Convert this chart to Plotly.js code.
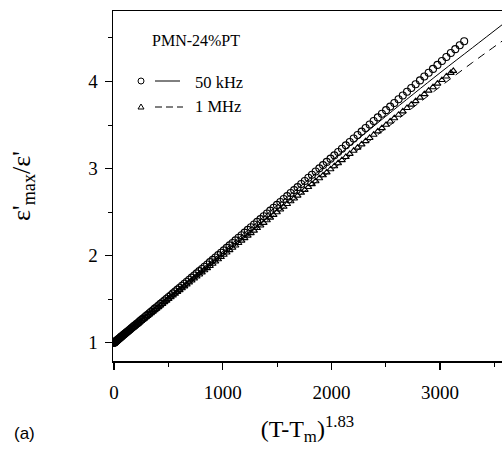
<!DOCTYPE html>
<html>
<head>
<meta charset="utf-8">
<script src="https://cdn.plot.ly/plotly-3.0.1.min.js"></script>
<style>html,body{margin:0;padding:0;background:#fff;}#chart{width:502px;height:455px;}</style>
</head>
<body>
<div id="chart"></div>
<script>
// 50 kHz measured points (circles)
const x50 = [0,1,2,4,6,9,12,15,19,23,28,33,38,44,50,57,64,71,79,87,95,104,114,124,135,146,158,170,182,195,208,221,235,249,263,278,293,308,324,340,357,374,391,409,427,445,464,483,502,522,542,562,583,604,625,647,669,691,714,737,760,784,808,832,857,882,907,932,958,984,1010,1036,1063,1090,1117,1145,1173,1201,1230,1259,1288,1317,1347,1377,1407,1437,1468,1499,1530,1561,1593,1625,1657,1689,1722,1755,1788,1821,1855,1889,1923,1957,1992,2027,2062,2097,2133,2169,2205,2241,2278,2315,2352,2389,2427,2465,2503,2541,2579,2618,2657,2696,2735,2775,2815,2855,2895,2935,2976,3017,3058,3099,3140,3181,3222];
const y50 = [1.000,1.001,1.002,1.004,1.006,1.009,1.012,1.016,1.020,1.024,1.029,1.034,1.040,1.046,1.052,1.059,1.067,1.074,1.082,1.091,1.099,1.108,1.119,1.129,1.141,1.152,1.165,1.177,1.190,1.203,1.217,1.230,1.245,1.260,1.274,1.290,1.306,1.321,1.338,1.355,1.373,1.391,1.408,1.427,1.446,1.465,1.485,1.505,1.525,1.546,1.567,1.588,1.610,1.632,1.654,1.677,1.701,1.724,1.748,1.772,1.797,1.822,1.847,1.873,1.899,1.926,1.952,1.979,2.006,2.034,2.061,2.089,2.118,2.146,2.175,2.205,2.235,2.265,2.296,2.327,2.357,2.388,2.420,2.453,2.485,2.517,2.550,2.583,2.616,2.650,2.684,2.719,2.753,2.787,2.823,2.858,2.894,2.930,2.966,3.003,3.040,3.077,3.114,3.152,3.190,3.228,3.267,3.306,3.346,3.385,3.425,3.466,3.506,3.546,3.588,3.629,3.671,3.712,3.754,3.797,3.840,3.882,3.925,3.969,4.013,4.057,4.101,4.145,4.191,4.236,4.281,4.327,4.372,4.417,4.463];
// 1 MHz measured points (triangles)
const x1M = [0,1,2,4,6,9,12,15,19,23,28,33,38,44,50,57,64,71,79,87,95,104,114,124,135,146,158,170,182,195,208,221,235,249,263,278,293,308,324,340,357,374,391,409,427,445,464,483,502,522,542,562,583,604,625,647,669,691,714,737,760,784,808,832,857,882,907,932,958,984,1010,1036,1063,1090,1117,1145,1173,1201,1230,1259,1288,1317,1347,1377,1407,1437,1468,1499,1530,1561,1593,1625,1657,1689,1722,1755,1788,1821,1855,1889,1923,1957,1992,2027,2062,2097,2133,2169,2205,2241,2278,2315,2352,2389,2427,2465,2503,2541,2579,2618,2657,2696,2735,2775,2815,2855,2895,2935,2976,3017,3058,3099,3122];
const y1M = [1.000,1.001,1.002,1.004,1.006,1.009,1.012,1.015,1.019,1.023,1.028,1.033,1.038,1.044,1.050,1.057,1.064,1.071,1.079,1.087,1.095,1.104,1.114,1.124,1.135,1.146,1.158,1.170,1.182,1.195,1.208,1.221,1.235,1.249,1.263,1.278,1.293,1.308,1.324,1.340,1.357,1.374,1.391,1.409,1.427,1.445,1.464,1.483,1.502,1.522,1.542,1.562,1.583,1.604,1.625,1.647,1.669,1.691,1.714,1.737,1.760,1.784,1.808,1.832,1.857,1.882,1.907,1.932,1.958,1.984,2.010,2.036,2.063,2.090,2.117,2.145,2.173,2.201,2.230,2.259,2.288,2.317,2.347,2.377,2.407,2.437,2.468,2.499,2.530,2.561,2.593,2.625,2.657,2.689,2.722,2.755,2.788,2.821,2.855,2.889,2.923,2.957,2.992,3.027,3.062,3.097,3.133,3.169,3.205,3.241,3.278,3.315,3.352,3.389,3.427,3.465,3.503,3.541,3.579,3.618,3.657,3.696,3.735,3.775,3.815,3.855,3.895,3.935,3.976,4.017,4.058,4.099,4.122];
// fit curves
const xFit = [0,500,1000,1500,2000,2500,3000,3300,3600];
const yFit50 = [1.000,1.525,2.050,2.575,3.090,3.600,4.100,4.390,4.680];
const yFit1M = [1.000,1.500,2.000,2.490,2.980,3.460,3.940,4.220,4.490];
// labels
const seriesNames = ["50 kHz","1 MHz"];
const sampleName = "PMN-24%PT";

const FONT = "Liberation Serif, Times New Roman, serif";
const traces = [
  {x:x50,y:y50,mode:'markers',type:'scatter',name:seriesNames[0],
   marker:{symbol:'circle-open',size:7,color:'#000',line:{width:1.1,color:'#000'}},showlegend:false},
  {x:x1M,y:y1M,mode:'markers',type:'scatter',name:seriesNames[1],
   marker:{symbol:'triangle-up-open',size:6,color:'#000',line:{width:1.1,color:'#000'}},showlegend:false},
  {x:xFit,y:yFit50,mode:'lines',type:'scatter',line:{color:'#000',width:1,shape:'spline'},showlegend:false},
  {x:xFit,y:yFit1M,mode:'lines',type:'scatter',line:{color:'#000',width:1,dash:'8px,6px',shape:'spline'},showlegend:false}
];

const px = v => (v-113)/389;
const py = v => (361-v)/350;

const layout = {
  width:502,height:455,
  margin:{l:113,r:0,t:11,b:94},
  paper_bgcolor:'#fff',plot_bgcolor:'#fff',
  font:{family:FONT,color:'#000',size:16},
  showlegend:false,
  xaxis:{range:[-10,3570],showgrid:false,zeroline:false,showline:true,linecolor:'#000',linewidth:1.5,
    mirror:true,ticks:'outside',ticklen:7,tickwidth:1.2,tickcolor:'#000',dtick:1000,tick0:0,
    minor:{dtick:500,ticks:'outside',ticklen:4,tickwidth:1,tickcolor:'#000',showgrid:false},
    tickfont:{family:FONT,size:19},ticklabelstandoff:7,
    title:{text:'(T-T<sub>m</sub>)<sup>1.83</sup>',font:{family:FONT,size:24},standoff:18}},
  yaxis:{range:[0.79,4.81],showgrid:false,zeroline:false,showline:true,linecolor:'#000',linewidth:1.5,
    ticks:'outside',ticklen:7,tickwidth:1.2,tickcolor:'#000',dtick:1,tick0:0,
    minor:{dtick:0.5,ticks:'outside',ticklen:4,tickwidth:1,tickcolor:'#000',showgrid:false},
    tickfont:{family:FONT,size:19},ticklabelstandoff:3,
    title:{text:"ε'<sub>max</sub>/ε'",font:{family:FONT,size:26},standoff:50}},
  annotations:[
    {xref:'paper',yref:'paper',x:px(196),y:py(40),text:sampleName,showarrow:false,font:{family:FONT,size:16},xanchor:'center',yanchor:'middle'},
    {xref:'paper',yref:'paper',x:px(193),y:py(82),text:seriesNames[0],showarrow:false,font:{family:FONT,size:16.5},xanchor:'left',yanchor:'middle'},
    {xref:'paper',yref:'paper',x:px(193),y:py(107),text:seriesNames[1],showarrow:false,font:{family:FONT,size:16.5},xanchor:'left',yanchor:'middle'},
    {xref:'paper',yref:'paper',x:px(12),y:py(433),text:'(a)',showarrow:false,font:{family:'Liberation Sans, Arial, sans-serif',size:17},xanchor:'left',yanchor:'middle'}
  ],
  shapes:[
    {type:'circle',xref:'paper',yref:'paper',xsizemode:'pixel',ysizemode:'pixel',xanchor:px(141),yanchor:py(81),x0:-3,x1:3,y0:-3,y1:3,line:{color:'#000',width:1}},
    {type:'line',xref:'paper',yref:'paper',x0:px(155),x1:px(180),y0:py(81),y1:py(81),line:{color:'#000',width:1}},
    {type:'path',xref:'paper',yref:'paper',xsizemode:'pixel',ysizemode:'pixel',xanchor:px(141),yanchor:py(107),path:'M -3 -2 L 3 -2 L 0 3 Z',line:{color:'#000',width:1}},
    {type:'line',xref:'paper',yref:'paper',x0:px(155),x1:px(183),y0:py(107),y1:py(107),line:{color:'#000',width:1,dash:'7px,4px'}}
  ]
};
Plotly.newPlot('chart',traces,layout,{staticPlot:true,displayModeBar:false});
</script>
</body>
</html>
